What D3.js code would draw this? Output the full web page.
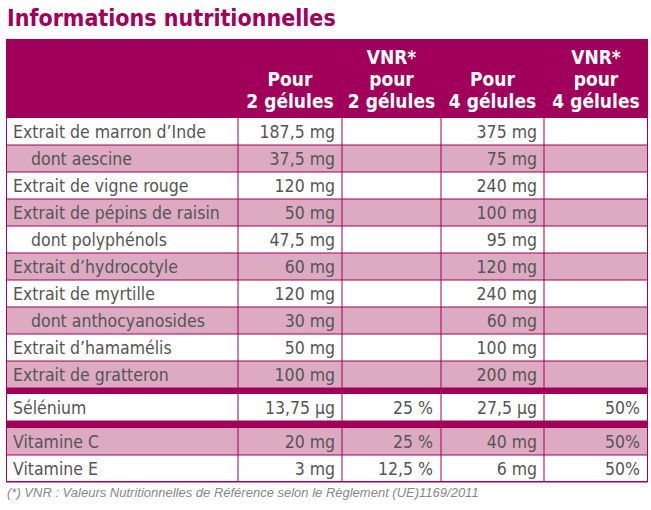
<!DOCTYPE html><html><head><meta charset="utf-8"><script src="https://cdn.jsdelivr.net/npm/d3@7"></script>
<style>body{margin:0;background:#fff}</style></head><body><svg id="c" width="651" height="510"></svg>
<script>
const headers = [["Pour","2 gélules"],["VNR*","pour","2 gélules"],["Pour","4 gélules"],["VNR*","pour","4 gélules"]];
const labels = ["Extrait de marron d’Inde","dont aescine","Extrait de vigne rouge","Extrait de pépins de raisin","dont polyphénols","Extrait d’hydrocotyle","Extrait de myrtille","dont anthocyanosides","Extrait d’hamamélis","Extrait de gratteron","|","Sélénium","|","Vitamine C","Vitamine E"];
const indent = [0,1,0,0,1,0,0,1,0,0,0,0,0,0,0];
const pink = [0,1,0,1,0,1,0,1,0,1,0,0,0,1,0];
const dose2 = ["187,5 mg","37,5 mg","120 mg","50 mg","47,5 mg","60 mg","120 mg","30 mg","50 mg","100 mg","","13,75 µg","","20 mg","3 mg"];
const vnr2 = ["","","","","","","","","","","","25 %","","25 %","12,5 %"];
const dose4 = ["375 mg","75 mg","240 mg","100 mg","95 mg","120 mg","240 mg","60 mg","100 mg","200 mg","","27,5 µg","","40 mg","6 mg"];
const vnr4 = ["","","","","","","","","","","","50%","","50%","50%"];
const footnote = "(*) VNR : Valeurs Nutritionnelles de Référence selon le Règlement (UE)1169/2011";

const svg = d3.select("#c");
const DARK="#a0005a", PINK="#dcaac1", TXT="#555";
const F="'DejaVu Sans Condensed','DejaVu Sans',sans-serif";
const colX = [6,238,342,441,544,648];
const L=6,R=648, hTop=39, hBot=118;
svg.append("text").attr("x",7).attr("y",26).attr("fill",DARK).attr("font-family",F).attr("font-weight","bold").attr("font-size",23).text("Informations nutritionnelles");
svg.append("rect").attr("x",L).attr("y",hTop).attr("width",R-L).attr("height",hBot-hTop).attr("fill",DARK);
headers.forEach((h,i)=>{
  const cx=(colX[i+1]+colX[i+2])/2;
  const n=h.length;
  h.forEach((t,j)=>svg.append("text").attr("x",cx).attr("y",hBot-10-(n-1-j)*22).attr("text-anchor","middle").attr("fill","#fff").attr("font-family",F).attr("font-weight","bold").attr("font-size",19).text(t));
});
let y=hBot; const rows=labels.map((l,i)=>{const h=l==="|"?(i===10?6:7):27; const r={i,y,h,sep:l==="|"}; y+=h; return r;});
const g=svg.append("g");
rows.forEach(r=>{
  const i=r.i;
  g.append("rect").attr("x",L).attr("y",r.y).attr("width",R-L).attr("height",r.h).attr("fill",r.sep?DARK:(pink[i]?PINK:"#fff"));
  if(r.sep) return;
  const ty=r.y+r.h/2+6;
  const txt=(x,s,a)=>g.append("text").attr("x",x).attr("y",ty).attr("text-anchor",a).attr("fill",TXT).attr("font-family",F).attr("font-size",17.5).text(s);
  txt(indent[i]?31:13,labels[i],"start");
  txt(colX[2]-7,dose2[i],"end");
  txt(colX[3]-8,vnr2[i],"end");
  txt(colX[4]-7,dose4[i],"end");
  txt(colX[5]-8,vnr4[i],"end");
});
const bottom=y;
colX.forEach((x,k)=>{ if(k===0||k===5) return; svg.append("line").attr("x1",x).attr("x2",x).attr("y1",hBot).attr("y2",bottom).attr("stroke",DARK).attr("stroke-width",1);});
rows.forEach(r=>{ if(!r.sep) svg.append("line").attr("x1",L).attr("x2",R).attr("y1",r.y+r.h).attr("y2",r.y+r.h).attr("stroke",DARK).attr("stroke-width",1);});
svg.append("rect").attr("x",L+0.5).attr("y",hTop+0.5).attr("width",R-L-1).attr("height",bottom-hTop-1).attr("fill","none").attr("stroke",DARK);
svg.append("text").attr("x",7).attr("y",bottom+15).attr("fill","#888").attr("font-style","italic").attr("font-family","'Liberation Sans Narrow','Liberation Sans',sans-serif").attr("font-size",13).text(footnote);
</script></body></html>
